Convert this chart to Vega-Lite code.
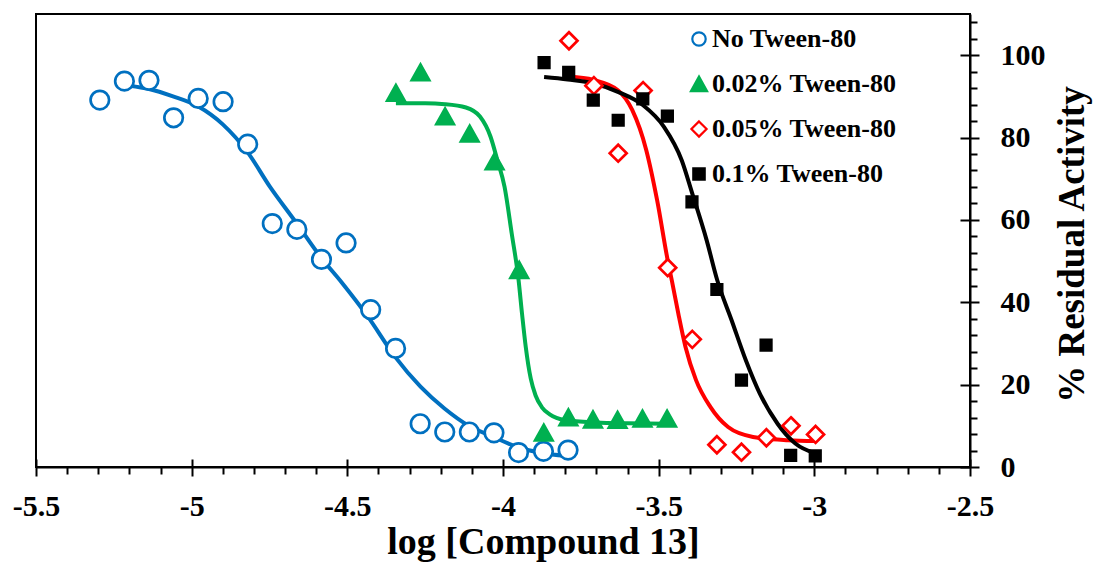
{
  "$schema": "https://vega.github.io/schema/vega-lite/v6.json",
  "autosize": "none",
  "width": 934,
  "height": 453,
  "padding": {"left": 36, "top": 14, "right": 126, "bottom": 96},
  "background": "white",
  "config": {
    "view": {"stroke": "black", "strokeWidth": 2},
    "legend": {
      "orient": "none",
      "legendX": 650,
      "legendY": 12,
      "padding": 0,
      "labelFont": "Liberation Serif",
      "labelFontWeight": "bold",
      "labelFontSize": 26,
      "labelColor": "black",
      "labelLimit": 400,
      "symbolSize": 180,
      "symbolStrokeWidth": 2.2,
      "rowPadding": 19,
      "labelOffset": 0
    }
  },
  "resolve": {"axis": {"x": "independent", "y": "independent"}},
  "datasets": {
    "points": [
      {"series": "No Tween-80", "x": -5.295, "y": 89.1},
      {"series": "No Tween-80", "x": -5.216, "y": 93.7},
      {"series": "No Tween-80", "x": -5.137, "y": 93.9},
      {"series": "No Tween-80", "x": -5.058, "y": 84.8},
      {"series": "No Tween-80", "x": -4.979, "y": 89.5},
      {"series": "No Tween-80", "x": -4.899, "y": 88.7},
      {"series": "No Tween-80", "x": -4.820, "y": 78.4},
      {"series": "No Tween-80", "x": -4.741, "y": 59.1},
      {"series": "No Tween-80", "x": -4.662, "y": 57.7},
      {"series": "No Tween-80", "x": -4.583, "y": 50.4},
      {"series": "No Tween-80", "x": -4.504, "y": 54.4},
      {"series": "No Tween-80", "x": -4.425, "y": 38.2},
      {"series": "No Tween-80", "x": -4.345, "y": 28.8},
      {"series": "No Tween-80", "x": -4.266, "y": 10.5},
      {"series": "No Tween-80", "x": -4.187, "y": 8.5},
      {"series": "No Tween-80", "x": -4.108, "y": 8.5},
      {"series": "No Tween-80", "x": -4.029, "y": 8.3},
      {"series": "No Tween-80", "x": -3.950, "y": 3.5},
      {"series": "No Tween-80", "x": -3.870, "y": 3.8},
      {"series": "No Tween-80", "x": -3.791, "y": 4.1},
      {"series": "0.02% Tween-80", "x": -4.344, "y": 90.8},
      {"series": "0.02% Tween-80", "x": -4.265, "y": 95.8},
      {"series": "0.02% Tween-80", "x": -4.186, "y": 85.1},
      {"series": "0.02% Tween-80", "x": -4.107, "y": 80.9},
      {"series": "0.02% Tween-80", "x": -4.027, "y": 74.2},
      {"series": "0.02% Tween-80", "x": -3.948, "y": 47.8},
      {"series": "0.02% Tween-80", "x": -3.869, "y": 8.3},
      {"series": "0.02% Tween-80", "x": -3.790, "y": 12.0},
      {"series": "0.02% Tween-80", "x": -3.711, "y": 11.5},
      {"series": "0.02% Tween-80", "x": -3.632, "y": 11.4},
      {"series": "0.02% Tween-80", "x": -3.552, "y": 11.7},
      {"series": "0.02% Tween-80", "x": -3.473, "y": 11.7},
      {"series": "0.05% Tween-80", "x": -3.788, "y": 103.5},
      {"series": "0.05% Tween-80", "x": -3.708, "y": 92.6},
      {"series": "0.05% Tween-80", "x": -3.630, "y": 76.2},
      {"series": "0.05% Tween-80", "x": -3.550, "y": 91.4},
      {"series": "0.05% Tween-80", "x": -3.471, "y": 48.4},
      {"series": "0.05% Tween-80", "x": -3.392, "y": 31.0},
      {"series": "0.05% Tween-80", "x": -3.313, "y": 5.4},
      {"series": "0.05% Tween-80", "x": -3.234, "y": 3.6},
      {"series": "0.05% Tween-80", "x": -3.154, "y": 7.1},
      {"series": "0.05% Tween-80", "x": -3.075, "y": 10.0},
      {"series": "0.05% Tween-80", "x": -2.996, "y": 7.9},
      {"series": "0.1% Tween-80", "x": -3.868, "y": 98.2},
      {"series": "0.1% Tween-80", "x": -3.789, "y": 95.8},
      {"series": "0.1% Tween-80", "x": -3.710, "y": 89.1},
      {"series": "0.1% Tween-80", "x": -3.630, "y": 84.2},
      {"series": "0.1% Tween-80", "x": -3.551, "y": 89.4},
      {"series": "0.1% Tween-80", "x": -3.472, "y": 85.2},
      {"series": "0.1% Tween-80", "x": -3.393, "y": 64.4},
      {"series": "0.1% Tween-80", "x": -3.313, "y": 43.1},
      {"series": "0.1% Tween-80", "x": -3.234, "y": 21.1},
      {"series": "0.1% Tween-80", "x": -3.155, "y": 29.6},
      {"series": "0.1% Tween-80", "x": -3.076, "y": 2.8},
      {"series": "0.1% Tween-80", "x": -2.997, "y": 2.7}
    ],
    "curves": [
      {"series": "No Tween-80", "x": -5.200, "y": 92.6},
      {"series": "No Tween-80", "x": -5.137, "y": 91.8},
      {"series": "No Tween-80", "x": -5.060, "y": 90.0},
      {"series": "No Tween-80", "x": -4.980, "y": 87.6},
      {"series": "No Tween-80", "x": -4.900, "y": 83.2},
      {"series": "No Tween-80", "x": -4.820, "y": 76.4},
      {"series": "No Tween-80", "x": -4.750, "y": 68.2},
      {"series": "No Tween-80", "x": -4.665, "y": 59.4},
      {"series": "No Tween-80", "x": -4.586, "y": 51.0},
      {"series": "No Tween-80", "x": -4.518, "y": 44.8},
      {"series": "No Tween-80", "x": -4.434, "y": 36.5},
      {"series": "No Tween-80", "x": -4.347, "y": 26.8},
      {"series": "No Tween-80", "x": -4.265, "y": 19.5},
      {"series": "No Tween-80", "x": -4.188, "y": 14.2},
      {"series": "No Tween-80", "x": -4.110, "y": 10.0},
      {"series": "No Tween-80", "x": -4.031, "y": 7.3},
      {"series": "No Tween-80", "x": -3.952, "y": 4.8},
      {"series": "No Tween-80", "x": -3.873, "y": 3.4},
      {"series": "No Tween-80", "x": -3.800, "y": 2.7},
      {"series": "0.02% Tween-80", "x": -4.344, "y": 88.3},
      {"series": "0.02% Tween-80", "x": -4.250, "y": 88.3},
      {"series": "0.02% Tween-80", "x": -4.186, "y": 88.1},
      {"series": "0.02% Tween-80", "x": -4.119, "y": 87.3},
      {"series": "0.02% Tween-80", "x": -4.074, "y": 85.1},
      {"series": "0.02% Tween-80", "x": -4.040, "y": 80.2},
      {"series": "0.02% Tween-80", "x": -4.018, "y": 74.5},
      {"series": "0.02% Tween-80", "x": -3.995, "y": 68.0},
      {"series": "0.02% Tween-80", "x": -3.972, "y": 56.7},
      {"series": "0.02% Tween-80", "x": -3.950, "y": 45.4},
      {"series": "0.02% Tween-80", "x": -3.939, "y": 37.3},
      {"series": "0.02% Tween-80", "x": -3.927, "y": 29.2},
      {"series": "0.02% Tween-80", "x": -3.911, "y": 21.5},
      {"series": "0.02% Tween-80", "x": -3.895, "y": 17.3},
      {"series": "0.02% Tween-80", "x": -3.875, "y": 14.5},
      {"series": "0.02% Tween-80", "x": -3.850, "y": 12.8},
      {"series": "0.02% Tween-80", "x": -3.800, "y": 11.4},
      {"series": "0.02% Tween-80", "x": -3.700, "y": 10.8},
      {"series": "0.02% Tween-80", "x": -3.600, "y": 10.6},
      {"series": "0.02% Tween-80", "x": -3.473, "y": 10.5},
      {"series": "0.05% Tween-80", "x": -3.788, "y": 94.8},
      {"series": "0.05% Tween-80", "x": -3.710, "y": 94.0},
      {"series": "0.05% Tween-80", "x": -3.631, "y": 91.5},
      {"series": "0.05% Tween-80", "x": -3.585, "y": 86.7},
      {"series": "0.05% Tween-80", "x": -3.540, "y": 77.0},
      {"series": "0.05% Tween-80", "x": -3.505, "y": 64.8},
      {"series": "0.05% Tween-80", "x": -3.471, "y": 50.2},
      {"series": "0.05% Tween-80", "x": -3.457, "y": 45.0},
      {"series": "0.05% Tween-80", "x": -3.437, "y": 37.3},
      {"series": "0.05% Tween-80", "x": -3.414, "y": 29.2},
      {"series": "0.05% Tween-80", "x": -3.380, "y": 21.1},
      {"series": "0.05% Tween-80", "x": -3.334, "y": 14.6},
      {"series": "0.05% Tween-80", "x": -3.277, "y": 9.7},
      {"series": "0.05% Tween-80", "x": -3.197, "y": 7.3},
      {"series": "0.05% Tween-80", "x": -3.084, "y": 6.5},
      {"series": "0.05% Tween-80", "x": -2.996, "y": 6.3},
      {"series": "0.1% Tween-80", "x": -3.868, "y": 94.7},
      {"series": "0.1% Tween-80", "x": -3.792, "y": 94.1},
      {"series": "0.1% Tween-80", "x": -3.710, "y": 93.2},
      {"series": "0.1% Tween-80", "x": -3.631, "y": 91.1},
      {"series": "0.1% Tween-80", "x": -3.551, "y": 87.9},
      {"series": "0.1% Tween-80", "x": -3.483, "y": 82.6},
      {"series": "0.1% Tween-80", "x": -3.426, "y": 74.5},
      {"series": "0.1% Tween-80", "x": -3.392, "y": 66.4},
      {"series": "0.1% Tween-80", "x": -3.346, "y": 55.1},
      {"series": "0.1% Tween-80", "x": -3.312, "y": 45.4},
      {"series": "0.1% Tween-80", "x": -3.266, "y": 35.7},
      {"series": "0.1% Tween-80", "x": -3.220, "y": 25.9},
      {"series": "0.1% Tween-80", "x": -3.175, "y": 17.8},
      {"series": "0.1% Tween-80", "x": -3.118, "y": 10.5},
      {"series": "0.1% Tween-80", "x": -3.061, "y": 5.7},
      {"series": "0.1% Tween-80", "x": -2.997, "y": 3.3}
    ]
  },
  "layer": [
    {
      "data": {"name": "curves"},
      "transform": [{"filter": "datum.series == 'No Tween-80'"}],
      "mark": {"type": "line", "stroke": "#0070C0", "strokeWidth": 4, "interpolate": "monotone"},
      "encoding": {
        "x": {"field": "x", "type": "quantitative", "scale": {"domain": [-5.5, -2.5], "nice": false, "zero": false},
          "axis": {"orient": "bottom", "values": [-5.5,-5,-4.5,-4,-3.5,-3,-2.5], "grid": false, "domain": false, "labels": false, "title": null, "tickColor": "black", "tickWidth": 2, "tickSize": -8}},
        "y": {"field": "y", "type": "quantitative", "scale": {"domain": [0, 110], "nice": false},
          "axis": {"orient": "right", "values": [0,20,40,60,80,100], "grid": false, "domain": false, "labels": false, "title": null, "tickColor": "black", "tickWidth": 2, "tickSize": -10}}
      }
    },
    {
      "data": {"name": "curves"},
      "transform": [{"filter": "datum.series == '0.02% Tween-80'"}],
      "mark": {"type": "line", "stroke": "#00B050", "strokeWidth": 4, "interpolate": "monotone"},
      "encoding": {
        "x": {"field": "x", "type": "quantitative", "axis": null},
        "y": {"field": "y", "type": "quantitative", "axis": null}
      }
    },
    {
      "data": {"name": "curves"},
      "transform": [{"filter": "datum.series == '0.05% Tween-80'"}],
      "mark": {"type": "line", "stroke": "#FF0000", "strokeWidth": 4, "interpolate": "monotone"},
      "encoding": {
        "x": {"field": "x", "type": "quantitative", "axis": null},
        "y": {"field": "y", "type": "quantitative", "axis": null}
      }
    },
    {
      "data": {"name": "curves"},
      "transform": [{"filter": "datum.series == '0.1% Tween-80'"}],
      "mark": {"type": "line", "stroke": "#000000", "strokeWidth": 4, "interpolate": "monotone"},
      "encoding": {
        "x": {"field": "x", "type": "quantitative", "axis": null},
        "y": {"field": "y", "type": "quantitative", "axis": null}
      }
    },
    {
      "data": {"name": "points"},
      "mark": {"type": "point", "filled": false, "strokeWidth": 2.7, "opacity": 1},
      "encoding": {
        "x": {
          "field": "x", "type": "quantitative",
          "axis": {
            "orient": "bottom",
            "values": [-5.5,-5.4,-5.3,-5.2,-5.1,-5,-4.9,-4.8,-4.7,-4.6,-4.5,-4.4,-4.3,-4.2,-4.1,-4,-3.9,-3.8,-3.7,-3.6,-3.5,-3.4,-3.3,-3.2,-3.1,-3,-2.9,-2.8,-2.7,-2.6,-2.5],
            "grid": false,
            "domainColor": "black", "domainWidth": 2,
            "tickColor": "black", "tickWidth": 2,
            "tickSize": {"condition": {"test": "abs(datum.value*2 - round(datum.value*2)) < 0.001", "value": 9}, "value": 7},
            "labelExpr": "abs(datum.value*2 - round(datum.value*2)) < 0.001 ? '' + datum.value : ''",
            "labelFont": "Liberation Serif", "labelFontWeight": "bold", "labelFontSize": 30, "labelColor": "black",
            "labelBaseline": "alphabetic", "labelPadding": 39,
            "labelOverlap": false, "labelBound": false, "labelFlush": false,
            "title": "log [Compound 13]",
            "titleFont": "Liberation Serif", "titleFontWeight": "bold", "titleFontSize": 38, "titleColor": "black",
            "titleX": 507, "titleY": 86, "titleBaseline": "alphabetic", "titleAlign": "center"
          }
        },
        "y": {
          "field": "y", "type": "quantitative",
          "axis": {
            "orient": "right",
            "values": [0,4,8,12,16,20,24,28,32,36,40,44,48,52,56,60,64,68,72,76,80,84,88,92,96,100,104,108],
            "grid": false,
            "domainColor": "black", "domainWidth": 2,
            "tickColor": "black", "tickWidth": 2,
            "tickSize": {"condition": {"test": "datum.value % 20 == 0", "value": 9}, "value": 7},
            "labelExpr": "datum.value % 20 == 0 ? '' + datum.value : ''",
            "labelFont": "Liberation Serif", "labelFontWeight": "bold", "labelFontSize": 30, "labelColor": "black",
            "labelPadding": 21,
            "labelOverlap": false, "labelBound": false, "labelFlush": false,
            "title": "% Residual Activity",
            "titleFont": "Liberation Serif", "titleFontWeight": "bold", "titleFontSize": 37, "titleColor": "black",
            "titleAngle": 270, "titleX": 113, "titleY": 230, "titleBaseline": "alphabetic", "titleAlign": "center"
          }
        },
        "shape": {
          "field": "series", "type": "nominal",
          "scale": {
            "domain": ["No Tween-80", "0.02% Tween-80", "0.05% Tween-80", "0.1% Tween-80"],
            "range": [
              "M1,0A1,1,0,1,1,-1,0A1,1,0,1,1,1,0Z",
              "M-1.2,1.05L1.2,1.05L0,-1.1Z",
              "M0,-1.13L1.13,0L0,1.13L-1.13,0Z",
              "M-0.85,-0.85L0.85,-0.85L0.85,0.85L-0.85,0.85Z"
            ]
          },
          "legend": {"title": null}
        },
        "fill": {
          "field": "series", "type": "nominal",
          "scale": {
            "domain": ["No Tween-80", "0.02% Tween-80", "0.05% Tween-80", "0.1% Tween-80"],
            "range": ["#FFFFFF", "#00B050", "#FFFFFF", "#000000"]
          },
          "legend": {"title": null}
        },
        "stroke": {
          "field": "series", "type": "nominal",
          "scale": {
            "domain": ["No Tween-80", "0.02% Tween-80", "0.05% Tween-80", "0.1% Tween-80"],
            "range": ["#0070C0", "#00B050", "#FF0000", "#000000"]
          },
          "legend": {"title": null}
        },
        "size": {
          "field": "series", "type": "nominal",
          "scale": {
            "type": "ordinal",
            "domain": ["No Tween-80", "0.02% Tween-80", "0.05% Tween-80", "0.1% Tween-80", "unused"],
            "range": [342, 213, 226, 153, 100]
          },
          "legend": null
        }
      }
    }
  ]
}
